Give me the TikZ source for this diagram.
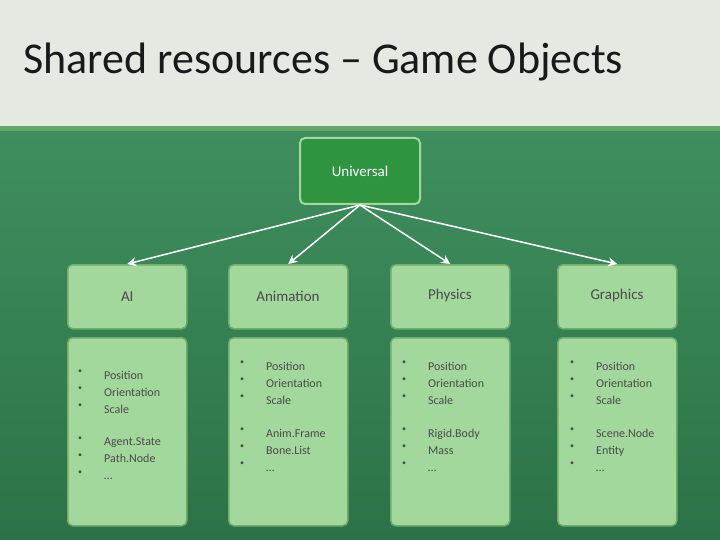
\documentclass[tikz,border=0pt]{standalone}
\usepackage{fontspec}
\setmainfont{Carlito}
\usetikzlibrary{arrows.meta}
\definecolor{bgtop}{HTML}{E4EAE2}
\definecolor{bggreen}{HTML}{3F8F5E}
\definecolor{bgdark}{HTML}{2C7248}
\definecolor{boxfill}{HTML}{A3D89C}
\definecolor{boxline}{HTML}{6FAE68}
\definecolor{unifill}{HTML}{2E9440}
\definecolor{txt}{HTML}{4A4A4A}
\tikzset{
 hdr/.style={draw=boxline,line width=1.5pt,fill=boxfill,rounded corners=5pt,minimum width=119pt,minimum height=64pt,text=txt,font=\fontsize{15}{18}\selectfont,anchor=north west},
 body/.style={draw=boxline,line width=1.5pt,fill=boxfill,rounded corners=5pt,minimum width=119pt,minimum height=188pt,anchor=north west},
 item/.style={text=txt,font=\fontsize{12}{17}\selectfont,align=left,anchor=north west,inner sep=0pt},
 arr/.style={white,line width=1.5pt,-{Stealth[length=9pt,width=9pt]}}
}
\newcommand{\blist}[2]{%
 \node[item,font=\fontsize{8}{17}\selectfont] at ([yshift=1pt]#1) {\textbullet\\\textbullet\\\textbullet};
 \node[item] at ([xshift=26pt]#1) {#2};}
\begin{document}
\begin{tikzpicture}[x=1pt,y=-1pt]
\useasboundingbox (0,0) rectangle (720,540);
\shade[top color=bggreen,bottom color=bgdark] (0,128) rectangle (720,540);
\fill[bgtop] (0,0) rectangle (720,126);
\fill[boxline!80!bggreen] (0,126) rectangle (720,131);
\node[anchor=west,font=\fontsize{44}{48}\selectfont,text=black!90] (title) at (20,62) {Shared resources -- Game Objects};
\node[draw=boxfill,line width=2pt,fill=unifill,rounded corners=5pt,minimum width=120pt,minimum height=66pt,text=white,font=\fontsize{15}{18}\selectfont] (uni) at (360,171) {Universal};
\node[hdr] (ai) at (67,264) {AI};
\node[hdr] (an) at (228,264) {};
\node[anchor=center,text=txt,font=\fontsize{15}{18}\selectfont] at (288,296) {Animation};
\node[hdr] (ph) at (390,264) {};
\node[anchor=center,text=txt,font=\fontsize{15}{18}\selectfont] at (450,296) {Physics};
\node[hdr] (gr) at (557,264) {};
\node[anchor=center,text=txt,font=\fontsize{15}{18}\selectfont] at (617,296) {Graphics};
\node[body] (aib) at (67,337) {};
\node[body] (anb) at (228,337) {};
\node[body] (phb) at (390,337) {};
\node[body] (grb) at (557,337) {};
\blist{78,371}{Position\\Orientation\\Scale}
\blist{78,438}{Agent.State\\Path.Node\\…}
\blist{240,362}{Position\\Orientation\\Scale}
\blist{240,429}{Anim.Frame\\Bone.List\\…}
\blist{402,362}{Position\\Orientation\\Scale}
\blist{402,429}{Rigid.Body\\Mass\\…}
\blist{570,362}{Position\\Orientation\\Scale}
\blist{570,429}{Scene.Node\\Entity\\…}
\draw[arr] (uni.south) -- (ai.north);
\draw[arr] (uni.south) -- (an.north);
\draw[arr] (uni.south) -- (ph.north);
\draw[arr] (uni.south) -- (gr.north);
\end{tikzpicture}
\end{document}
